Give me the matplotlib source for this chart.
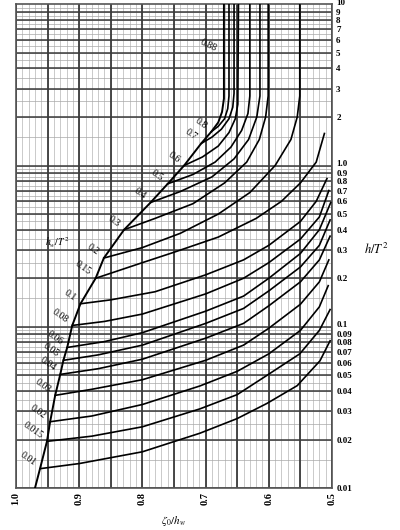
#Nomogram: zeta_0/h_w versus h/T^2 for several h_w/T^2 values
import matplotlib.pyplot as plt
import matplotlib.transforms as mtransforms
import numpy as np

plt.rcParams['mathtext.fontset'] = 'stix'
plt.rcParams['font.family'] = 'Liberation Serif'

#Data (x = zeta_0/h_w, y = h/T^2)
boundary_x = [0.970, 0.962, 0.951, 0.946, 0.938, 0.930, 0.925, 0.919, 0.911, 0.898,
              0.874, 0.861, 0.829, 0.787, 0.760, 0.734, 0.707, 0.691, 0.680, 0.674, 0.671, 0.671]
boundary_y = [0.010, 0.0132, 0.0195, 0.0258, 0.0376, 0.0507, 0.062, 0.0745, 0.102, 0.139,
              0.20, 0.267, 0.40, 0.59, 0.77, 1.0, 1.37, 1.62, 1.85, 2.15, 2.6, 10.0]

curve_labels = ['0.01', '0.015', '0.02', '0.03', '0.04', '0.05', '0.06', '0.08', '0.1',
                '0.15', '0.2', '0.3', '0.4', '0.5', '0.6', '0.7', '0.8']

curve_x = [
    [0.962, 0.90, 0.80, 0.709, 0.65, 0.603, 0.555, 0.519, 0.503],
    [0.951, 0.88, 0.80, 0.709, 0.65, 0.603, 0.551, 0.52, 0.503],
    [0.946, 0.88, 0.80, 0.709, 0.65, 0.60, 0.55, 0.52, 0.506],
    [0.938, 0.88, 0.80, 0.70, 0.64, 0.60, 0.55, 0.52, 0.505],
    [0.930, 0.87, 0.80, 0.70, 0.64, 0.60, 0.55, 0.52, 0.503],
    [0.925, 0.87, 0.80, 0.70, 0.64, 0.60, 0.55, 0.52, 0.503],
    [0.919, 0.86, 0.80, 0.70, 0.64, 0.60, 0.55, 0.52, 0.502],
    [0.911, 0.86, 0.80, 0.70, 0.64, 0.60, 0.55, 0.52, 0.505],
    [0.898, 0.85, 0.78, 0.70, 0.64, 0.60, 0.55, 0.525, 0.508],
    [0.874, 0.80, 0.75, 0.68, 0.62, 0.58, 0.55, 0.525, 0.512],
    [0.861, 0.80, 0.74, 0.68, 0.63, 0.59, 0.565, 0.555, 0.551, 0.551],
    [0.829, 0.78, 0.72, 0.67, 0.635, 0.615, 0.605, 0.601, 0.601],
    [0.787, 0.74, 0.69, 0.655, 0.632, 0.619, 0.614, 0.614],
    [0.760, 0.72, 0.685, 0.66, 0.643, 0.633, 0.630, 0.630],
    [0.734, 0.705, 0.68, 0.663, 0.653, 0.649, 0.648],
    [0.707, 0.69, 0.675, 0.663, 0.657, 0.655, 0.655],
    [0.691, 0.68, 0.67, 0.665, 0.663, 0.663],
]
curve_y = [
    [0.0132, 0.0142, 0.0168, 0.0219, 0.027, 0.0335, 0.0432, 0.0616, 0.082],
    [0.0195, 0.021, 0.024, 0.031, 0.038, 0.050, 0.068, 0.095, 0.128],
    [0.0258, 0.028, 0.033, 0.043, 0.053, 0.068, 0.095, 0.133, 0.18],
    [0.0376, 0.041, 0.047, 0.062, 0.077, 0.098, 0.138, 0.19, 0.26],
    [0.0507, 0.055, 0.063, 0.085, 0.105, 0.135, 0.19, 0.26, 0.365],
    [0.062, 0.067, 0.077, 0.105, 0.13, 0.167, 0.235, 0.32, 0.46],
    [0.0745, 0.081, 0.092, 0.125, 0.155, 0.20, 0.285, 0.40, 0.59],
    [0.102, 0.108, 0.12, 0.16, 0.20, 0.25, 0.35, 0.48, 0.70],
    [0.139, 0.147, 0.165, 0.21, 0.26, 0.32, 0.45, 0.60, 0.83],
    [0.20, 0.25, 0.29, 0.36, 0.47, 0.60, 0.78, 1.05, 1.58],
    [0.267, 0.31, 0.38, 0.50, 0.68, 1.0, 1.45, 2.0, 2.7, 10.0],
    [0.40, 0.47, 0.58, 0.78, 1.05, 1.45, 2.0, 2.7, 10.0],
    [0.59, 0.69, 0.85, 1.1, 1.45, 2.0, 2.7, 10.0],
    [0.77, 0.88, 1.05, 1.3, 1.65, 2.1, 2.7, 10.0],
    [1.0, 1.13, 1.32, 1.6, 1.95, 2.4, 10.0],
    [1.37, 1.5, 1.68, 1.95, 2.3, 2.8, 10.0],
    [1.62, 1.75, 1.95, 2.25, 2.7, 10.0],
]

top_label = '0.88'
top_label_x, top_label_y = 0.695, 5.6

xtick_vals = [1.0, 0.9, 0.8, 0.7, 0.6, 0.5]
xtick_labels = ['1.0', '0.9', '0.8', '0.7', '0.6', '0.5']
ytick_vals = [0.01, 0.02, 0.03, 0.04, 0.05, 0.06, 0.07, 0.08, 0.09,
              0.1, 0.2, 0.3, 0.4, 0.5, 0.6, 0.7, 0.8, 0.9,
              1, 2, 3, 4, 5, 6, 7, 8, 9, 10]
ytick_labels = ['0.01', '0.02', '0.03', '0.04', '0.05', '0.06', '0.07', '0.08', '0.09',
                '0.1', '0.2', '0.3', '0.4', '0.5', '0.6', '0.7', '0.8', '0.9',
                '1.0', '2', '3', '4', '5', '6', '7', '8', '9', '10']

fig = plt.figure(figsize=(4.0, 5.3), dpi=100)
ax = fig.add_axes([0.04, 0.079, 0.79, 0.913])
ax.set_yscale('log')
ax.set_xlim(1.0, 0.5)
ax.set_ylim(0.01, 10)

#grid: fine, minor, major
for v in np.arange(0.5, 1.0001, 0.01):
    ax.axvline(v, color='#b5b5b5', lw=0.5, zorder=0)
for v in np.arange(0.5, 1.0001, 0.05):
    ax.axvline(v, color='#3a3a3a', lw=1.3, zorder=1)
for dec in [0.01, 0.1, 1]:
    for m in np.arange(1, 10, 0.5):
        ax.axhline(dec * m, color='#a8a8a8', lw=0.5, zorder=0)
    for m in range(1, 10):
        ax.axhline(dec * m, color='#3a3a3a', lw=1.1, zorder=1)

#curves
ax.plot(boundary_x, boundary_y, color='black', lw=1.4, zorder=3)
for cx, cy in zip(curve_x, curve_y):
    ax.plot(cx, cy, color='black', lw=1.2, zorder=3)

for lab, cx, cy in zip(curve_labels, curve_x, curve_y):
    ax.annotate(lab, (cx[0], cy[0]), xytext=(-2, 1), textcoords='offset points',
                ha='right', va='bottom', rotation=-35, fontsize=7, zorder=4)
ax.text(top_label_x, top_label_y, top_label, rotation=-25, fontsize=7,
        ha='center', va='center', zorder=4)

ax.yaxis.tick_right()
ax.set_yticks(ytick_vals)
ax.set_yticklabels(ytick_labels, fontweight='bold')
ax.yaxis.set_minor_locator(plt.NullLocator())
ax.set_xticks(xtick_vals)
ax.set_xticklabels(xtick_labels, rotation=90, fontweight='bold')
ax.tick_params(axis='y', length=0, labelsize=6.5, pad=3)
ax.tick_params(axis='x', length=0, labelsize=7.5, pad=3)

#crowded labels at 0.09/0.1, 0.9/1.0, 9/10 are nudged apart a little
for lab in ax.get_yticklabels():
    t = lab.get_text()
    if t in ('0.1', '1.0', '10'):
        lab.set_transform(lab.get_transform() + mtransforms.ScaledTranslation(0, 1.8 / 72, fig.dpi_scale_trans))

for s in ax.spines.values():
    s.set_color('#555555')
    s.set_linewidth(1.2)

ax.text(1.1, 0.3, r'$h/T^2$', transform=ax.get_yaxis_transform(), fontsize=9,
        va='center', ha='left')
ax.text(0.935, 0.33, r'$h_w/T^2$', fontsize=7, va='center', ha='center', zorder=4)
ax.set_xlabel(r'$\zeta_0/h_w$', fontsize=8, labelpad=6)

fig.savefig('out.png', dpi=100)
